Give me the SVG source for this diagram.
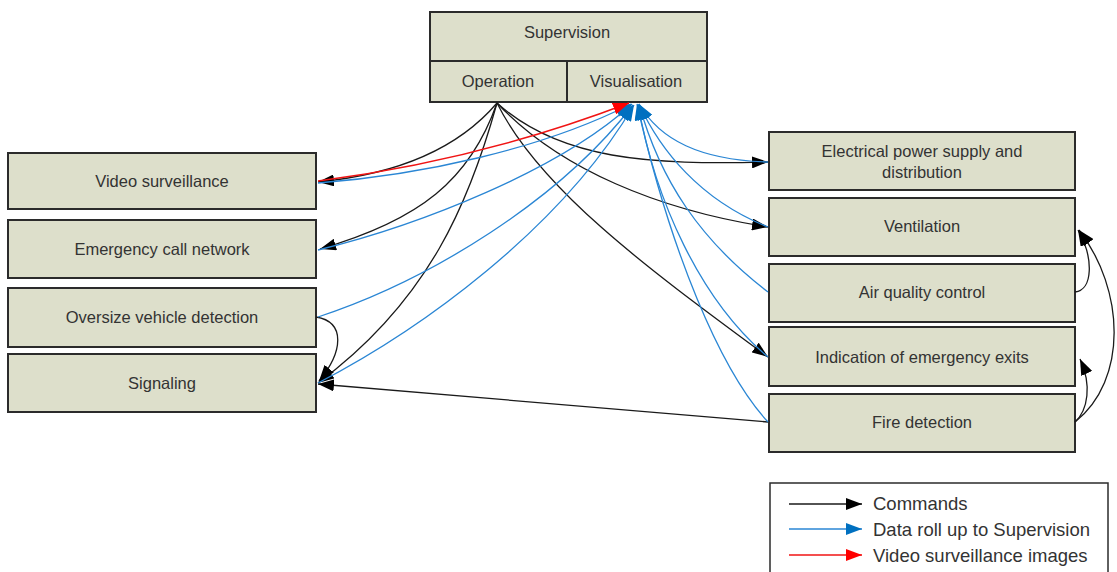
<svg xmlns="http://www.w3.org/2000/svg" width="1117" height="572" viewBox="0 0 1117 572">
<style>
.box{fill:#dddfcb;stroke:#2b2b2b;stroke-width:2}
.t{font-family:"Liberation Sans",Arial,sans-serif;font-size:16.5px;fill:#333;text-anchor:middle}
.lt{font-family:"Liberation Sans",Arial,sans-serif;font-size:18.5px;fill:#333}
.k{fill:none;stroke:#1a1a1a;stroke-width:1.3;marker-end:url(#ak)}
.b{fill:none;stroke:#2a86d4;stroke-width:1.3;marker-end:url(#ab)}
.r{fill:none;stroke:#f01414;stroke-width:1.5;marker-end:url(#ar)}
</style>
<defs>
<marker id="ak" markerUnits="userSpaceOnUse" markerWidth="16" markerHeight="12" refX="16" refY="6" orient="auto"><path d="M0,0 L16,6 L0,12 Z" fill="#000"/></marker>
<marker id="ab" markerUnits="userSpaceOnUse" markerWidth="16" markerHeight="12" refX="16" refY="6" orient="auto"><path d="M0,0 L16,6 L0,12 Z" fill="#0070c0"/></marker>
<marker id="ar" markerUnits="userSpaceOnUse" markerWidth="16" markerHeight="12" refX="16" refY="6" orient="auto"><path d="M0,0 L16,6 L0,12 Z" fill="#ff0000"/></marker>
</defs>

<g id="supervision">
<rect class="box" x="430" y="12" width="277" height="90"/>
<line x1="430" y1="61" x2="707" y2="61" stroke="#2b2b2b" stroke-width="2"/>
<line x1="567" y1="61" x2="567" y2="102" stroke="#2b2b2b" stroke-width="2"/>
<text class="t" x="567" y="38">Supervision</text>
<text class="t" x="498" y="87">Operation</text>
<text class="t" x="636" y="87">Visualisation</text>
</g>

<g id="video-surveillance"><rect class="box" x="8" y="153" width="308" height="56"/><text class="t" x="162" y="187">Video surveillance</text></g>
<g id="emergency-call"><rect class="box" x="8" y="220" width="308" height="58"/><text class="t" x="162" y="255">Emergency call network</text></g>
<g id="oversize-vehicle"><rect class="box" x="8" y="288" width="308" height="59"/><text class="t" x="162" y="323">Oversize vehicle detection</text></g>
<g id="signaling"><rect class="box" x="8" y="354" width="308" height="58"/><text class="t" x="162" y="389">Signaling</text></g>

<g id="electrical"><rect class="box" x="769" y="132" width="306" height="58"/><text class="t" x="922" y="157">Electrical power supply and</text><text class="t" x="922" y="178">distribution</text></g>
<g id="ventilation"><rect class="box" x="769" y="198" width="306" height="58"/><text class="t" x="922" y="232">Ventilation</text></g>
<g id="air-quality"><rect class="box" x="769" y="264" width="306" height="58"/><text class="t" x="922" y="298">Air quality control</text></g>
<g id="emergency-exits"><rect class="box" x="769" y="327" width="306" height="59"/><text class="t" x="922" y="363">Indication of emergency exits</text></g>
<g id="fire-detection"><rect class="box" x="769" y="394" width="306" height="58"/><text class="t" x="922" y="428">Fire detection</text></g>

<g id="connectors">
<!-- commands -->
<path class="k" d="M497,103 Q440,170 318,182"/>
<path class="k" d="M497,103 C470,180 420,220 320,249"/>
<path class="k" d="M497,103 C470,200 430,300 318,383"/>
<path class="k" d="M497,103 C560,160 650,165 768,162"/>
<path class="k" d="M497,103 C560,170 660,210 768,227"/>
<path class="k" d="M497,103 C540,190 650,270 768,357"/>
<path class="k" d="M768,422 Q540,403 318,384"/>
<path class="k" d="M316,317 C346,322 343,352 319,381"/>
<path class="k" d="M1075,292 C1093,290 1094,258 1078,230"/>
<path class="k" d="M1075,422 C1128,380 1125,290 1079,230"/>
<path class="k" d="M1075,422 C1088,410 1092,385 1080,359"/>
<!-- data roll up -->
<path class="b" d="M318,183 C420,175 540,150 631,104"/>
<path class="b" d="M318,250 C420,225 560,170 632,104"/>
<path class="b" d="M318,317 C430,280 560,200 633,105"/>
<path class="b" d="M318,383 C420,330 560,230 634,105"/>
<path class="b" d="M768,162 C700,160 660,140 639,104"/>
<path class="b" d="M768,227 C700,200 660,150 639,104"/>
<path class="b" d="M768,292 C700,240 660,180 639,104"/>
<path class="b" d="M768,357 C700,300 655,200 638,104"/>
<path class="b" d="M768,422 C720,370 670,250 637,104"/>
<!-- video -->
<path class="r" d="M318,181 Q480,160 629,103"/>
</g>

<g id="legend">
<rect x="770" y="483" width="338" height="100" fill="#fff" stroke="#2b2b2b" stroke-width="1.5"/>
<line class="k" x1="789" y1="504" x2="862" y2="504"/>
<line class="b" x1="789" y1="529" x2="862" y2="529"/>
<line class="r" x1="789" y1="555" x2="862" y2="555"/>
<text class="lt" x="873" y="510">Commands</text>
<text class="lt" x="873" y="536">Data roll up to Supervision</text>
<text class="lt" x="873" y="562">Video surveillance images</text>
</g>
</svg>
